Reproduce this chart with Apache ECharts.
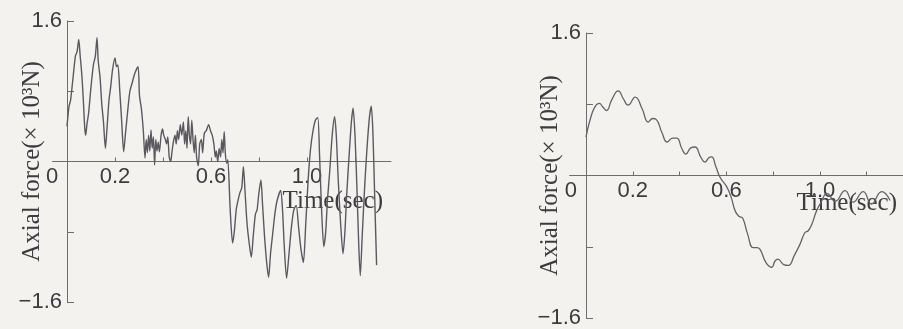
<!DOCTYPE html>
<html>
<head>
<meta charset="utf-8">
<script src="https://cdn.jsdelivr.net/npm/echarts@6/dist/echarts.min.js"></script>
<style>
  html, body { margin: 0; padding: 0; background: #f3f2ef; }
  #chart { width: 903px; height: 329px; }
</style>
</head>
<body>
<div id="chart"></div>
<script>
// left panel: measured axial force (noisy)
const leftTime = [
  0.000, 0.008, 0.015, 0.025, 0.035, 0.042, 0.049, 0.055, 0.062, 0.068, 0.074, 0.078,
  0.083, 0.090, 0.100, 0.110, 0.118, 0.125, 0.130, 0.138, 0.145, 0.152, 0.160, 0.166,
  0.175, 0.182, 0.190, 0.200, 0.206, 0.212, 0.220, 0.228, 0.236, 0.243, 0.252, 0.262,
  0.272, 0.282, 0.296, 0.302, 0.310, 0.318, 0.325, 0.330, 0.335, 0.340, 0.345, 0.350,
  0.355, 0.360, 0.365, 0.370, 0.375, 0.380, 0.385, 0.392, 0.398, 0.403, 0.410, 0.415,
  0.420, 0.426, 0.432, 0.437, 0.443, 0.450, 0.455, 0.460, 0.465, 0.472, 0.478, 0.485,
  0.490, 0.495, 0.500, 0.505, 0.510, 0.515, 0.520, 0.525, 0.530, 0.535, 0.540, 0.547,
  0.553, 0.560, 0.565, 0.572, 0.580, 0.590, 0.598, 0.605, 0.612, 0.618, 0.622, 0.628,
  0.634, 0.640, 0.645, 0.650, 0.655, 0.660, 0.666, 0.670, 0.680, 0.690, 0.697, 0.705,
  0.712, 0.720, 0.728, 0.735, 0.742, 0.750, 0.760, 0.768, 0.776, 0.785, 0.792, 0.800,
  0.808, 0.815, 0.823, 0.832, 0.840, 0.848, 0.858, 0.866, 0.875, 0.890, 0.898, 0.905,
  0.915, 0.925, 0.935, 0.945, 0.955, 0.965, 0.975, 0.985, 0.995, 1.005, 1.015, 1.025,
  1.035, 1.045, 1.052, 1.060, 1.070, 1.078, 1.085, 1.095, 1.105, 1.115, 1.122, 1.130,
  1.140, 1.150, 1.158, 1.165, 1.175, 1.185, 1.192, 1.200, 1.208, 1.215, 1.222, 1.230,
  1.240, 1.250, 1.260, 1.268, 1.275, 1.282, 1.290
];
const leftForce = [
  0.40, 0.62, 0.70, 0.95, 1.20, 1.25, 1.39, 1.20, 0.98, 0.70, 0.38, 0.30,
  0.42, 0.55, 0.85, 1.10, 1.20, 1.41, 1.15, 0.95, 0.65, 0.45, 0.15, 0.35,
  0.70, 0.85, 1.05, 1.18, 1.08, 1.10, 0.80, 0.45, 0.11, 0.30, 0.55, 0.80,
  0.90, 1.00, 1.08, 0.75, 0.60, 0.35, 0.04, 0.25, 0.10, 0.30, 0.12, 0.36,
  0.15, 0.28, -0.04, 0.25, 0.12, 0.22, 0.11, 0.30, 0.37, 0.30, 0.25, 0.20,
  0.28, 0.05, 0.00, 0.10, 0.22, 0.30, 0.20, 0.35, 0.25, 0.42, 0.30, 0.45,
  0.20, 0.35, 0.15, 0.51, 0.30, 0.20, 0.47, 0.25, 0.10, 0.30, 0.05, -0.05,
  0.20, 0.25, 0.10, 0.32, 0.35, 0.42, 0.35, 0.30, 0.20, 0.05, 0.12, 0.00,
  0.15, 0.05, 0.25, 0.10, 0.34, 0.08, -0.02, 0.02, -0.55, -0.93, -0.80, -0.55,
  -0.45, -0.36, -0.30, -0.06, -0.35, -0.70, -0.95, -1.09, -0.85, -0.60, -0.55, -0.35,
  -0.21, -0.50, -0.85, -1.15, -1.32, -1.05, -0.80, -0.60, -0.45, -0.33, -0.55, -0.95,
  -1.33, -1.05, -0.75, -0.55, -0.50, -0.75, -1.00, -1.15, -0.70, -0.20, 0.15, 0.35,
  0.47, 0.50, 0.10, -0.50, -0.97, -0.80, -0.45, -0.10, 0.30, 0.51, 0.30, -0.20,
  -0.70, -1.05, -0.80, -0.40, 0.05, 0.45, 0.61, 0.30, -0.30, -0.90, -1.30, -0.85,
  -0.30, 0.15, 0.50, 0.63, 0.30, -0.40, -1.18
];

// right panel: computed axial force (smooth)
const rightTime = [
  0.000, 0.017, 0.038, 0.057, 0.072, 0.088, 0.110, 0.138, 0.160, 0.180, 0.210, 0.240,
  0.266, 0.285, 0.300, 0.325, 0.347, 0.370, 0.388, 0.410, 0.427, 0.448, 0.466, 0.490,
  0.508, 0.525, 0.537, 0.555, 0.573, 0.600, 0.620, 0.638, 0.655, 0.670, 0.690, 0.715,
  0.730, 0.744, 0.770, 0.794, 0.808, 0.820, 0.845, 0.865, 0.890, 0.915, 0.936, 0.950,
  0.965, 0.985, 1.005, 1.030, 1.065, 1.107, 1.142, 1.185, 1.220, 1.264, 1.300
];
const rightForce = [
  0.43, 0.62, 0.77, 0.81, 0.77, 0.73, 0.85, 0.95, 0.86, 0.79, 0.88, 0.75,
  0.60, 0.64, 0.63, 0.48, 0.375, 0.42, 0.42, 0.30, 0.24, 0.31, 0.32, 0.21,
  0.15, 0.20, 0.21, 0.10, -0.02, -0.12, -0.24, -0.40, -0.46, -0.48, -0.65, -0.81,
  -0.81, -0.83, -0.98, -1.03, -0.96, -0.94, -1.00, -1.01, -0.90, -0.77, -0.64, -0.62,
  -0.55, -0.40, -0.30, -0.20, -0.29, -0.17, -0.30, -0.18, -0.32, -0.18, -0.28
];

const xLabelValues = [0, 0.2, 0.6, 1.0];
const xTickValues = [0.2, 0.4, 0.6, 0.8, 1.0, 1.2];
const yTickValues = [-1.6, -0.8, 0, 0.8, 1.6];
const yLabelValues = [-1.6, 1.6];

const AXIS = '#6f6c70';
const INK = '#3d3b40';
const LINE = '#5c5860';
const SANS = '"Liberation Sans", Arial, sans-serif';
const SERIF = '"Liberation Serif", "Times New Roman", serif';

const zip = (a, b) => a.map((t, i) => [t, b[i]]);

// x axis sits at force = 0, half the grid height above the bottom edge
function xAxisFor(gridIndex, min, max, lift, namePad, nameGap) {
  return {
    type: 'value', gridIndex, min, max,
    position: 'bottom',
    offset: -lift,
    name: 'Time(sec)',
    nameLocation: 'end',
    nameGap,
    nameMoveOverlap: false,
    nameTextStyle: {
      fontFamily: SERIF, fontSize: 25, color: INK,
      align: 'right', verticalAlign: 'top', padding: [namePad, 0, 0, 0]
    },
    axisLine: { onZero: false, lineStyle: { color: AXIS, width: 1 } },
    axisTick: { show: true, inside: true, length: 4, customValues: xTickValues,
      lineStyle: { color: AXIS } },
    axisLabel: {
      customValues: xLabelValues, margin: 4,
      fontFamily: SANS, fontSize: 22, color: INK,
      formatter: v => (v === 0 ? '{z|0}' : v.toFixed(1)),
      rich: { z: { fontFamily: SANS, fontSize: 22, color: INK, padding: [0, 30, 0, 0] } }
    },
    splitLine: { show: false }
  };
}

// y axis sits at t = 0, which is `shift` px inside the grid's left edge
function yAxisFor(gridIndex, shift, nameGap) {
  return {
    type: 'value', gridIndex, min: -1.6, max: 1.6, interval: 0.8,
    position: 'left',
    offset: -shift,
    name: 'Axial force(\u00d7 10\u00b3N)',
    nameLocation: 'middle',
    nameRotate: 90,
    nameGap,
    nameMoveOverlap: false,
    nameTextStyle: { fontFamily: SERIF, fontSize: 25, color: INK },
    axisLine: { show: true, onZero: false, lineStyle: { color: AXIS, width: 1 } },
    axisTick: { show: true, inside: true, length: 7, customValues: yTickValues,
      lineStyle: { color: AXIS } },
    axisLabel: {
      customValues: yLabelValues, margin: 5,
      fontFamily: SANS, fontSize: 22, color: INK,
      formatter: v => (v < 0 ? '\u2212' + Math.abs(v).toFixed(1) : v.toFixed(1))
    },
    splitLine: { show: false }
  };
}

const chart = echarts.init(document.getElementById('chart'), null, { renderer: 'canvas' });

chart.setOption({
  backgroundColor: '#f3f2ef',
  animation: false,
  grid: [
    { left: 52.6, top: 21, width: 338.4, height: 281, outerBoundsMode: 'none', containLabel: false },
    { left: 569.6, top: 33, width: 333.4, height: 285, outerBoundsMode: 'none', containLabel: false }
  ],
  xAxis: [
    xAxisFor(0, -0.06, 1.35, 140.5, 27, -8),
    xAxisFor(1, -0.07, 1.355, 142.5, 15, -6)
  ],
  yAxis: [
    yAxisFor(0, 14.4, 22),
    yAxisFor(1, 16.4, 23)
  ],
  series: [
    {
      type: 'line', xAxisIndex: 0, yAxisIndex: 0,
      data: zip(leftTime, leftForce),
      showSymbol: false, smooth: 0.25,
      lineStyle: { color: LINE, width: 1.4 }
    },
    {
      type: 'line', xAxisIndex: 1, yAxisIndex: 1,
      data: zip(rightTime, rightForce),
      showSymbol: false, smooth: 0.5,
      lineStyle: { color: '#66626a', width: 1.3 }
    }
  ]
});
</script>
</body>
</html>
